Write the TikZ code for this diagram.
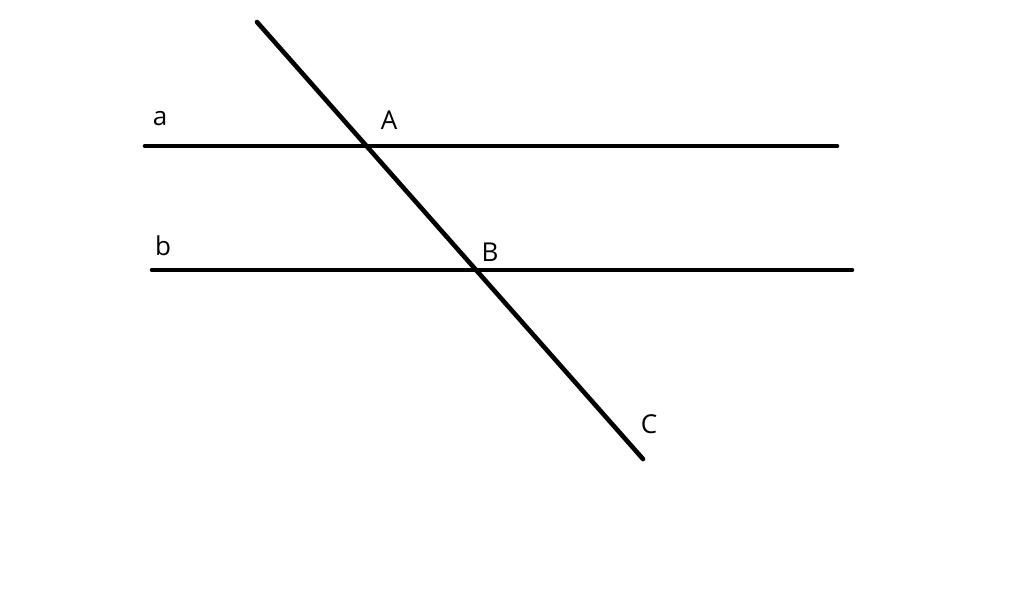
\documentclass[tikz,border=0pt]{standalone}
\usepackage{fontspec}
\setmainfont{Open Sans}
\begin{document}
\begin{tikzpicture}[x=0.5pt,y=-0.5pt,
  ln/.style={line width=2.3pt,line cap=round},
  lbl/.style={inner sep=0pt,font=\fontsize{13}{15}\selectfont}]
\useasboundingbox[fill=white] (0,0) rectangle (1024,607);
\coordinate (a1) at (145,146);
\coordinate (a2) at (837,146);
\coordinate (b1) at (152,270);
\coordinate (b2) at (852,270);
\coordinate (t1) at (257,22);
\coordinate (t2) at (643,459);
\draw[ln] (a1) -- (a2);
\draw[ln] (b1) -- (b2);
\draw[ln] (t1) -- (t2);
\node[lbl] (la) at (160,119) {a};
\node[lbl] (lA) at (389,120) {A};
\node[lbl] (lb) at (163,246) {b};
\node[lbl] (lB) at (490,252) {B};
\node[lbl] (lC) at (649,424) {C};
\end{tikzpicture}
\end{document}
